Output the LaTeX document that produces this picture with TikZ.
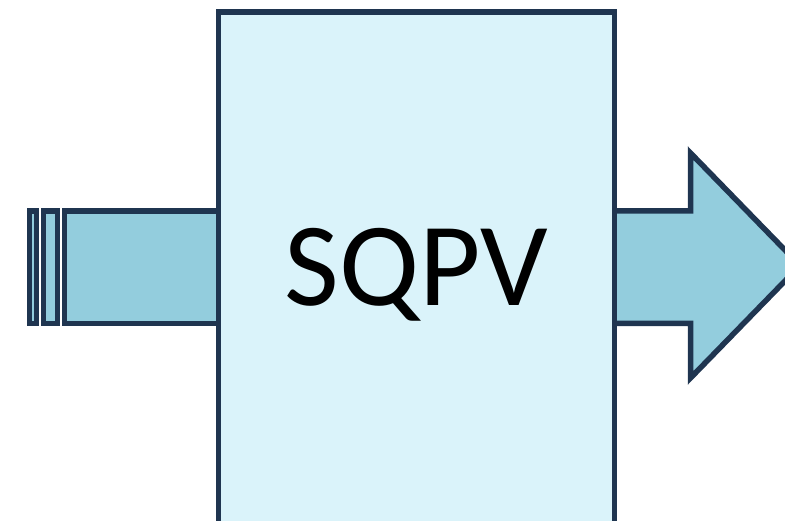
\documentclass[tikz,border=0pt]{standalone}
\usepackage{fontspec}
\setmainfont{Carlito}
\definecolor{navy}{HTML}{1F3550}
\definecolor{boxfill}{HTML}{DAF3FA}
\definecolor{flowfill}{HTML}{93CDDD}
\tikzset{
  outline/.style={draw=navy, line width=5.5pt, line join=miter},
  flow/.style={outline, fill=flowfill},
  procbox/.style={outline, fill=boxfill, rectangle, inner sep=0pt},
}
\begin{document}
\begin{tikzpicture}[x=1pt,y=-1pt]
\useasboundingbox (0,0) rectangle (785,521);
\clip (0,0) rectangle (785,521);
% incoming striped shaft
\draw[flow] (29.5,210.8) rectangle (36.5,323.5);
\draw[flow] (43.5,210.8) rectangle (57.5,323.5);
\draw[flow] (64.5,210.8) rectangle (230,323.5);
% outgoing block arrow
\draw[flow] (600,210.8) -- (690.5,210.8) -- (690.5,153) -- (800,265.5)
  -- (690.5,378) -- (690.5,323.5) -- (600,323.5) -- cycle;
% process box
\node[procbox, minimum width=396pt, minimum height=530pt, anchor=north west]
  (box) at (215.6,9.1) {};
\node[anchor=base, font=\fontsize{119}{119}\selectfont, inner sep=0pt]
  (label) at (416.5,306) {SQPV};
\end{tikzpicture}
\end{document}
